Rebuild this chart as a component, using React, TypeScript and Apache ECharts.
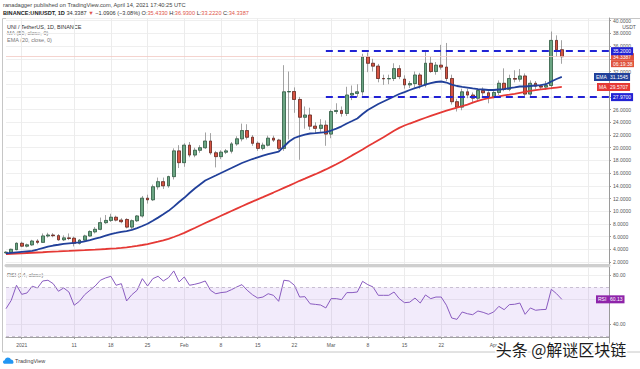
import React, { useEffect, useRef } from "react";
import * as echarts from "echarts";

// ---------- data ----------
const opens = [
  3.45, 3.5, 3.95, 4.95, 4.5, 4.7, 5.3, 5.1, 6.1, 6.25,
  6.15, 5.5, 5.8, 5.75, 4.95, 5.45, 6.1, 6.75, 7.15, 8.2,
  8.55, 9.05, 8.6, 8.7, 7.5, 8.5, 9.25, 12.05, 11.8, 13.85,
  14.65, 14.0, 15.45, 19.5, 17.65, 20.4, 18.85, 19.6, 20.0, 21.05,
  19.2, 18.6, 19.3, 19.45, 20.6, 21.4, 22.7, 21.65, 20.7, 19.9,
  20.4, 21.5, 21.2, 19.9, 28.8, 28.85, 27.6, 24.8, 25.15, 23.4,
  23.05, 23.55, 22.15, 25.7, 25.85, 25.4, 28.3, 28.55, 28.8, 34.3,
  33.3, 32.85, 30.9, 30.85, 30.9, 32.45, 30.8, 29.9, 30.1, 31.45,
  29.9, 33.3, 32.0, 33.0, 32.7, 30.9, 27.25, 26.4, 28.8, 28.3,
  27.8, 29.0, 28.65, 28.05, 28.7, 30.15, 29.2, 30.9, 30.8, 31.3,
  28.45, 30.15, 29.7, 29.55, 29.8, 36.9, 35.433,
];
const closes = [
  3.55, 4.0, 4.95, 4.5, 4.7, 5.3, 5.1, 6.1, 6.25, 6.15,
  5.5, 5.8, 5.7, 4.95, 5.45, 6.1, 6.8, 7.15, 8.2, 8.55,
  9.05, 8.6, 8.35, 7.5, 8.5, 9.25, 12.05, 11.8, 13.85, 14.65,
  14.0, 15.45, 19.5, 17.65, 20.4, 18.85, 19.6, 20.0, 21.05, 19.2,
  18.6, 19.3, 19.5, 20.6, 21.4, 22.7, 21.65, 20.7, 19.9, 20.4,
  21.5, 21.2, 19.9, 28.8, 28.85, 27.6, 24.8, 25.15, 23.4, 23.05,
  23.55, 22.15, 25.7, 25.85, 25.4, 28.3, 28.55, 28.8, 34.3, 33.3,
  32.85, 30.9, 30.85, 30.9, 32.45, 31.2, 29.9, 30.1, 31.45, 29.9,
  33.3, 32.0, 33.0, 32.7, 30.9, 27.25, 26.4, 28.8, 28.3, 27.8,
  29.0, 28.65, 28.05, 28.7, 30.15, 29.2, 30.9, 30.8, 31.3, 28.45,
  30.15, 29.7, 29.55, 29.8, 36.9, 35.43, 34.3387,
];
const lows = [
  3.3, 3.4, 3.85, 4.35, 4.3, 4.55, 4.8, 5.0, 5.85, 5.9,
  5.35, 5.3, 5.45, 4.45, 4.75, 5.3, 6.0, 6.5, 7.0, 8.0,
  8.3, 8.4, 8.1, 7.3, 7.2, 8.3, 9.0, 11.2, 11.6, 13.4,
  13.5, 13.7, 15.0, 16.8, 17.0, 18.5, 18.5, 19.2, 19.8, 18.9,
  16.9, 18.2, 19.0, 19.1, 20.3, 21.0, 21.3, 20.3, 19.5, 19.6,
  20.2, 20.9, 19.6, 19.5, 21.3, 25.5, 18.1, 23.0, 22.8, 22.3,
  22.5, 20.3, 21.5, 25.3, 24.9, 25.0, 27.5, 28.0, 28.2, 31.9,
  32.0, 30.3, 29.9, 30.0, 30.5, 30.8, 29.3, 29.4, 29.5, 29.3,
  29.5, 31.8, 31.5, 32.3, 30.5, 26.8, 25.7, 25.9, 27.8, 27.0,
  27.5, 28.0, 27.0, 27.8, 28.3, 28.9, 28.9, 30.3, 30.4, 28.1,
  28.1, 29.2, 29.2, 29.1, 29.2, 34.3, 33.222,
];
const highs = [
  3.7, 4.1, 5.1, 5.2, 4.9, 5.5, 5.6, 6.5, 6.6, 6.55,
  6.4, 6.2, 6.5, 6.0, 5.6, 6.3, 7.0, 7.5, 9.0, 9.4,
  9.6, 9.3, 8.9, 8.9, 8.7, 9.4, 12.4, 12.6, 14.2, 15.3,
  15.3, 15.6, 19.9, 20.4, 20.7, 20.9, 20.0, 20.4, 22.4, 22.3,
  19.5, 19.6, 19.8, 20.9, 21.8, 23.8, 23.7, 22.0, 21.0, 20.8,
  21.9, 21.9, 21.4, 33.0, 32.0, 29.5, 28.0, 26.5, 26.3, 24.0,
  24.5, 24.3, 26.0, 27.0, 26.5, 29.6, 29.8, 30.0, 34.8, 35.0,
  34.0, 33.2, 31.5, 31.5, 33.3, 33.0, 31.4, 30.5, 32.0, 31.8,
  35.1, 34.3, 33.5, 36.2, 36.5, 31.5, 27.7, 29.3, 29.3, 28.7,
  29.3, 29.5, 28.9, 29.0, 30.6, 32.5, 31.5, 32.2, 32.4, 31.7,
  30.6, 30.5, 30.0, 30.5, 38.3, 37.7, 36.93,
];
const ema20 = [
  3.37, 3.45, 3.53, 3.61, 3.69, 3.76, 3.97, 4.2, 4.43, 4.6,
  4.72, 4.87, 4.94, 5.01, 5.1, 5.26, 5.45, 5.67, 5.89, 6.16,
  6.41, 6.58, 6.76, 6.88, 7.07, 7.35, 7.67, 8.03, 8.5, 8.99,
  9.51, 10.06, 10.72, 11.45, 12.11, 12.87, 13.57, 14.2, 14.83, 15.23,
  15.62, 16.02, 16.41, 16.8, 17.2, 17.59, 17.91, 18.22, 18.49, 18.74,
  18.98, 19.2, 19.4, 20.19, 20.98, 21.53, 21.84, 22.08, 22.24, 22.31,
  22.39, 22.47, 22.71, 23.02, 23.37, 23.81, 24.2, 24.6, 25.31, 25.94,
  26.41, 26.88, 27.28, 27.67, 28.06, 28.46, 28.77, 29.09, 29.4, 29.64,
  29.95, 30.19, 30.35, 30.43, 30.27, 29.95, 29.72, 29.59, 29.48, 29.35,
  29.24, 29.17, 29.09, 29.09, 29.17, 29.24, 29.4, 29.51, 29.64, 29.64,
  29.72, 29.8, 29.87, 30.0, 30.43, 30.82, 31.15,
];
const ma50 = [
  3.26, 3.29, 3.34, 3.37, 3.42, 3.46, 3.5, 3.54, 3.59, 3.64,
  3.67, 3.72, 3.75, 3.8, 3.83, 3.86, 3.91, 3.95, 4.0, 4.05,
  4.11, 4.16, 4.22, 4.31, 4.41, 4.54, 4.68, 4.83, 5.02, 5.21,
  5.42, 5.65, 5.94, 6.25, 6.6, 6.98, 7.35, 7.75, 8.14, 8.52,
  8.9, 9.28, 9.65, 10.03, 10.41, 10.79, 11.15, 11.51, 11.87, 12.22,
  12.58, 12.94, 13.31, 13.67, 14.03, 14.41, 14.79, 15.13, 15.48, 15.83,
  16.2, 16.58, 16.99, 17.4, 17.84, 18.31, 18.79, 19.26, 19.73, 20.22,
  20.69, 21.18, 21.65, 22.16, 22.66, 23.13, 23.5, 23.81, 24.11, 24.43,
  24.72, 25.01, 25.29, 25.57, 25.83, 26.08, 26.31, 26.54, 26.8, 27.1,
  27.39, 27.62, 27.8, 27.95, 28.09, 28.24, 28.36, 28.49, 28.65, 28.8,
  28.96, 29.07, 29.18, 29.28, 29.37, 29.48, 29.57,
];
const rsi14 = [
  52.5, 59.3, 71.6, 64.2, 65.3, 70.8, 69.4, 75.1, 75.7, 72.9,
  66.7, 69.4, 66.1, 55.3, 58.5, 63.9, 67.5, 71.0, 75.7, 77.6,
  78.9, 71.6, 72.9, 58.8, 63.9, 67.5, 77.0, 71.0, 77.0, 78.9,
  75.1, 77.8, 83.3, 74.3, 78.4, 71.6, 72.4, 73.5, 75.1, 67.5,
  64.7, 65.6, 66.1, 68.0, 70.2, 72.1, 67.5, 63.9, 61.2, 62.0,
  64.7, 63.4, 58.5, 75.7, 75.1, 71.6, 62.0, 62.3, 56.5, 56.0,
  55.5, 53.1, 60.7, 60.7, 59.9, 65.6, 65.6, 66.1, 74.8, 72.1,
  70.2, 63.4, 63.4, 63.4, 66.1, 60.7, 57.4, 57.8, 61.2, 57.1,
  63.7, 60.7, 62.0, 62.0, 55.3, 44.9, 43.8, 49.8, 48.4, 47.6,
  50.6, 49.5, 47.9, 49.8, 54.4, 51.7, 55.8, 56.1, 57.1, 47.9,
  53.1, 51.2, 51.7, 51.9, 68.3, 64.7, 60.13,
];

const tickDates = [
  "2021-01-01", "2021-01-11", "2021-01-18", "2021-01-25", "2021-02-01",
  "2021-02-08", "2021-02-15", "2021-02-22", "2021-03-01", "2021-03-08",
  "2021-03-15", "2021-03-22", "2021-04-01", "2021-04-12", "2021-04-19",
];
const tickLabels = ["2021", "11", "18", "25", "Feb", "8", "15", "22", "Mar", "8", "15", "22", "Apr", "", ""];

const levelStart = "2021-02-28";
const levelValues = [35.2, 27.97];
const lastPrice = 34.3387;
const countdown = "06:19:38";
const lastEma = 31.1545;
const lastMa = 29.5707;
const lastRsi = 60.13;
const rsiBand = [30, 70];
// price-axis labels hidden behind the value badges in the reference
const hiddenPriceLabels = [34, 30, 28];

// categories: Dec 29 2020 .. Apr 23 2021 (blank days on the right)
const CAT_COUNT = 116;
const dayMs = 86400000;
const startMs = Date.UTC(2020, 11, 29);
const dates: string[] = [];
for (let i = 0; i < CAT_COUNT; i++) dates.push(new Date(startMs + i * dayMs).toISOString().slice(0, 10));
const lastDate = dates[dates.length - 1];

const tickMap: Record<string, string> = {};
tickDates.forEach((d, i) => (tickMap[d] = tickLabels[i]));
const isTick = (_i: number, v: string) => v in tickMap;

echarts.graphic.registerShape(
  "tvLogo",
  echarts.graphic.extendPath(
    "M2.5 9 C1 9 0 8 0 6.6 C0 5.3 1 4.3 2.2 4.2 C2.6 2 4.4 0.5 6.5 0.5 C8.4 0.5 10 1.7 10.6 3.4 C12.5 3.5 14 5 14 6.9 C14 8.1 13 9 11.8 9 Z",
    {}
  )
);

const FONT = "Liberation Sans, Arial, sans-serif";
const UP = "#6ba583";
const DOWN = "#d75442";
const UP_B = "#225437";
const DOWN_B = "#5b1a13";
const LEVEL = "#2222d4";
const HIDDEN_LINE = { color: "rgba(0,0,0,0)", width: 0 };

function badge(text: string, bg: string, extra: any = {}) {
  return {
    show: true,
    position: "end",
    distance: 2,
    formatter: text,
    color: "#fff",
    backgroundColor: bg,
    padding: [1, 2, 1, 2],
    fontSize: 5,
    fontFamily: FONT,
    lineHeight: 6,
    ...extra,
  };
}

function buildOption() {
  const wicks = opens.map((o, i) => [o, closes[i], lows[i], highs[i]]);
  const bodies = opens.map((o, i) => [o, closes[i], Math.min(o, closes[i]), Math.max(o, closes[i])]);

  return {
    animation: false,
    backgroundColor: "#ffffff",
    textStyle: { fontFamily: FONT },
    grid: [
      { left: 6, right: 31, top: 18, height: 247 },
      { left: 6, right: 31, top: 267, height: 70 },
    ],
    xAxis: [
      {
        type: "category",
        gridIndex: 0,
        data: dates,
        boundaryGap: false,
        axisLine: { show: true, lineStyle: { color: "#cfcfcf", width: 3 } },
        axisTick: { show: false },
        axisLabel: { show: false },
        splitLine: { show: true, interval: isTick, lineStyle: { color: "#ececec", width: 1 } },
      },
      {
        type: "category",
        gridIndex: 1,
        data: dates,
        boundaryGap: false,
        axisLine: { show: true, lineStyle: { color: "#a0a0a0", width: 1 } },
        axisTick: { show: true, interval: isTick, length: 2, lineStyle: { color: "#a0a0a0" } },
        axisLabel: {
          show: true,
          interval: isTick,
          formatter: (v: string) => tickMap[v] ?? "",
          fontSize: 5,
          color: "#555",
          margin: 5,
          fontFamily: FONT,
        },
        splitLine: { show: true, interval: isTick, lineStyle: { color: "#ececec", width: 1 } },
      },
    ],
    yAxis: [
      {
        type: "value",
        gridIndex: 0,
        position: "right",
        min: 1.53,
        max: 40.43,
        splitNumber: 19,
        axisLine: { show: true, lineStyle: { color: "#9a9a9a" } },
        axisTick: { show: true, length: 2, lineStyle: { color: "#9a9a9a" } },
        axisLabel: {
          fontSize: 5,
          color: "#555",
          margin: 4,
          fontFamily: FONT,
          showMinLabel: false,
          showMaxLabel: false,
          formatter: (v: number) => {
            const even = Math.abs(v / 2 - Math.round(v / 2)) < 1e-6;
            if (!even) return "";
            if (hiddenPriceLabels.some((h) => Math.abs(h - v) < 1e-6)) return "";
            return v.toFixed(4);
          },
        },
        splitLine: { show: true, lineStyle: { color: "#efefef" } },
      },
      {
        type: "value",
        gridIndex: 1,
        position: "right",
        min: 29.4,
        max: 86.5,
        splitNumber: 3,
        axisLine: { show: true, lineStyle: { color: "#9a9a9a" } },
        axisTick: { show: true, length: 2, lineStyle: { color: "#9a9a9a" } },
        axisLabel: {
          fontSize: 5,
          color: "#555",
          margin: 4,
          fontFamily: FONT,
          showMinLabel: false,
          showMaxLabel: false,
          formatter: (v: number) => (v === 80 || v === 40 ? v.toFixed(2) : ""),
        },
        splitLine: { show: true, lineStyle: { color: "#efefef" } },
      },
    ],
    series: [
      {
        name: "wicks",
        type: "candlestick",
        xAxisIndex: 0,
        yAxisIndex: 0,
        data: wicks,
        barWidth: 3.3,
        clip: false,
        silent: true,
        itemStyle: {
          color: "#8c8c8c",
          color0: "#8c8c8c",
          borderColor: "#8c8c8c",
          borderColor0: "#8c8c8c",
          borderWidth: 0.8,
        },
      },
      {
        name: "bodies",
        type: "candlestick",
        xAxisIndex: 0,
        yAxisIndex: 0,
        data: bodies,
        barWidth: 3.3,
        clip: false,
        silent: true,
        itemStyle: {
          color: UP,
          color0: DOWN,
          borderColor: UP_B,
          borderColor0: DOWN_B,
          borderWidth: 0.6,
        },
        markLine: {
          silent: true,
          symbol: ["none", "none"],
          data: [
            {
              yAxis: lastPrice,
              lineStyle: { color: "#f3c9c3", width: 0.8, type: "solid" },
              label: {
                show: true,
                position: "end",
                distance: 2,
                formatter: "{a|" + lastPrice.toFixed(4) + "}\n{b|" + countdown + "}",
                padding: [7, 0, 0, 0],
                rich: {
                  a: { color: "#fff", backgroundColor: "#e0533d", fontSize: 5, fontFamily: FONT, padding: [1, 2, 1, 2], lineHeight: 7, width: 19 },
                  b: { color: "#fff", backgroundColor: "#e0533d", fontSize: 5, fontFamily: FONT, padding: [1, 2, 1, 2], lineHeight: 7, width: 19 },
                },
              },
            },
            ...levelValues.map((lv) => [
              {
                coord: [levelStart, lv],
                lineStyle: { color: LEVEL, width: 1.8, type: [7, 5] },
                label: badge(lv.toFixed(4), LEVEL),
              },
              { coord: [lastDate, lv] },
            ]),
          ],
        },
      },
      {
        name: "MA 50",
        type: "line",
        xAxisIndex: 0,
        yAxisIndex: 0,
        data: ma50,
        showSymbol: false,
        clip: false,
        silent: true,
        lineStyle: { color: "#e53935", width: 1.8 },
        markLine: {
          silent: true,
          symbol: ["none", "none"],
          data: [
            {
              yAxis: lastMa,
              lineStyle: HIDDEN_LINE,
              label: badge("{t|MA}{v|" + lastMa.toFixed(4) + "}", "#e53935", {
                distance: -12,
                rich: { t: { width: 11, fontSize: 5, color: "#fff" }, v: { fontSize: 5, color: "#fff" } },
              }),
            },
          ],
        },
      },
      {
        name: "EMA 20",
        type: "line",
        xAxisIndex: 0,
        yAxisIndex: 0,
        data: ema20,
        showSymbol: false,
        clip: false,
        silent: true,
        lineStyle: { color: "#21409a", width: 1.8 },
        markLine: {
          silent: true,
          symbol: ["none", "none"],
          data: [
            {
              yAxis: lastEma,
              lineStyle: HIDDEN_LINE,
              label: badge("{t|EMA}{v|" + lastEma.toFixed(4) + "}", "#21409a", {
                distance: -15,
                rich: { t: { width: 14, fontSize: 5, color: "#fff" }, v: { fontSize: 5, color: "#fff" } },
              }),
            },
          ],
        },
      },
      {
        name: "RSI",
        type: "line",
        xAxisIndex: 1,
        yAxisIndex: 1,
        data: rsi14,
        showSymbol: false,
        clip: false,
        silent: true,
        lineStyle: { color: "#8a5cc0", width: 1 },
        markArea: {
          silent: true,
          itemStyle: { color: "rgba(156, 100, 225, 0.13)" },
          data: [[{ yAxis: rsiBand[0] }, { yAxis: rsiBand[1] }]],
        },
        markLine: {
          silent: true,
          symbol: ["none", "none"],
          data: [
            ...rsiBand.map((b) => ({
              yAxis: b,
              lineStyle: { color: "#bcb3c6", width: 0.8, type: [3, 3] },
              label: { show: false },
            })),
            {
              yAxis: lastRsi,
              lineStyle: HIDDEN_LINE,
              label: badge("{t|RSI}{v|" + lastRsi.toFixed(2) + "}", "#8e24aa", {
                distance: -13,
                rich: { t: { width: 12, fontSize: 5, color: "#fff" }, v: { fontSize: 5, color: "#fff" } },
              }),
            },
          ],
        },
      },
    ],
    graphic: [
      {
        type: "rect",
        silent: true,
        z: -10,
        shape: { x: 2.5, y: 18.5, width: 660, height: 333.5 },
        style: { fill: "none", stroke: "#c6c6c6", lineWidth: 1 },
      },
      {
        type: "line",
        silent: true,
        shape: { x1: 609.5, y1: 337, x2: 609.5, y2: 352 },
        style: { stroke: "#9a9a9a", lineWidth: 1 },
      },
      {
        type: "text",
        x: 3,
        y: 4.5,
        silent: true,
        style: {
          text: "ranadagger published on TradingView.com, April 14, 2021 17:40:25 UTC",
          fill: "#444",
          fontSize: 5.7,
          fontFamily: FONT,
          verticalAlign: "middle",
        },
      },
      {
        type: "text",
        x: 3,
        y: 12.5,
        silent: true,
        style: {
          text:
            "{b|BINANCE:UNIUSDT, 1D} {n|34.3387} {r|▼} {n|−1.0906 (−3.08%)} {n|O:}{r|35.4330} {n|H:}{r|36.9300} {n|L:}{r|33.2220} {n|C:}{r|34.3387}",
          fontSize: 5.6,
          fontFamily: FONT,
          verticalAlign: "middle",
          rich: {
            b: { fontWeight: "bold", fill: "#222", fontSize: 5.6, fontFamily: FONT },
            n: { fill: "#333", fontSize: 5.6, fontFamily: FONT },
            r: { fill: "#e0554a", fontSize: 5.6, fontFamily: FONT },
          },
        },
      },
      {
        type: "text",
        x: 7,
        y: 26.5,
        silent: true,
        style: { text: "UNI / TetherUS, 1D, BINANCE", fill: "#333", fontSize: 5.5, fontFamily: FONT, verticalAlign: "middle" },
      },
      {
        type: "text",
        x: 7,
        y: 33,
        silent: true,
        style: { text: "MA (50, close, 0)", fill: "#777", fontSize: 5.5, fontFamily: FONT, verticalAlign: "middle" },
      },
      {
        type: "text",
        x: 7,
        y: 39.5,
        silent: true,
        style: { text: "EMA (20, close, 0)", fill: "#777", fontSize: 5.5, fontFamily: FONT, verticalAlign: "middle" },
      },
      {
        type: "text",
        x: 7,
        y: 274.7,
        silent: true,
        style: { text: "RSI (14, close)", fill: "#666", fontSize: 5.5, fontFamily: FONT, verticalAlign: "middle" },
      },
      {
        type: "text",
        x: 629,
        y: 26.5,
        silent: true,
        style: { text: "USDT", fill: "#555", fontSize: 5, fontFamily: FONT, align: "center", verticalAlign: "middle" },
      },
      {
        type: "tvLogo",
        x: 3,
        y: 357,
        scaleX: 0.75,
        scaleY: 0.75,
        silent: true,
        style: { fill: "#2196f3" },
      },
      {
        type: "text",
        x: 15,
        y: 361,
        silent: true,
        style: { text: "TradingView", fill: "#444", fontSize: 5.5, fontFamily: FONT, verticalAlign: "middle" },
      },
      {
        type: "text",
        x: 561,
        y: 349,
        z: 50,
        silent: true,
        style: {
          text: "头条 @解谜区块链",
          fill: "#ffffff",
          stroke: "#ffffff",
          lineWidth: 3,
          fontSize: 16,
          fontFamily: "Noto Sans CJK SC",
          align: "center",
          verticalAlign: "middle",
        },
      },
      {
        type: "text",
        x: 561,
        y: 349,
        z: 51,
        silent: true,
        style: {
          text: "头条 @解谜区块链",
          fill: "#1c1c1c",
          fontSize: 16,
          fontFamily: "Noto Sans CJK SC",
          align: "center",
          verticalAlign: "middle",
        },
      },
    ],
  };
}

export default function App() {
  const ref = useRef<HTMLDivElement>(null);
  useEffect(() => {
    if (!ref.current) return;
    const chart = echarts.init(ref.current, null, { renderer: "svg" });
    chart.setOption(buildOption() as any);
    return () => chart.dispose();
  }, []);
  return (
    <div
      ref={ref}
      style={{ position: "fixed", left: 0, top: 0, width: 640, height: 369, background: "#fff" }}
    />
  );
}
